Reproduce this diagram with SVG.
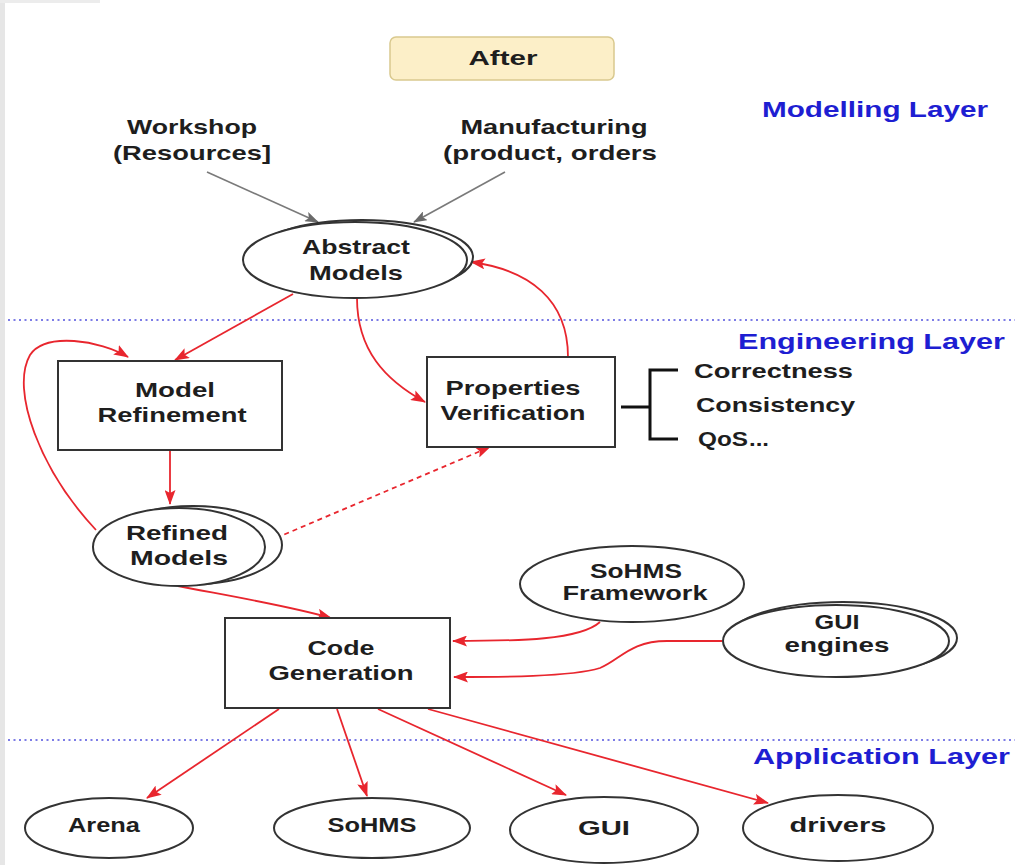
<svg xmlns="http://www.w3.org/2000/svg" width="1015" height="865" viewBox="0 0 1015 865">
  <style>
    .t { font-family: "Liberation Sans", Arial, sans-serif; font-weight: bold; font-size: 21px; fill: #1e1e1e; }
    .c { text-anchor: middle; }
    .layer { font-family: "Liberation Sans", Arial, sans-serif; font-weight: bold; font-size: 22px; fill: #1e1ed2; }
    .node { fill: #fff; stroke: #333; stroke-width: 2; }
    .red { fill: none; stroke: #e8262e; stroke-width: 1.8; marker-end: url(#ar); }
    .grey { fill: none; stroke: #7a7a7a; stroke-width: 1.6; marker-end: url(#ag); }
    .sep { stroke: #7c7ce6; stroke-width: 2; stroke-dasharray: 2 3.5; }
  </style>
  <defs>
    <marker id="ar" viewBox="0 0 15 11" refX="14" refY="5.5" markerWidth="15" markerHeight="11" markerUnits="userSpaceOnUse" orient="auto">
      <path d="M0,0 L15,5.5 L0,11 L3,5.5 Z" fill="#e8262e"/>
    </marker>
    <marker id="ag" viewBox="0 0 14 10" refX="13" refY="5" markerWidth="14" markerHeight="10" markerUnits="userSpaceOnUse" orient="auto">
      <path d="M0,0 L14,5 L0,10 L3,5 Z" fill="#6a6a6a"/>
    </marker>
  </defs>

  <!-- page background and frame strips -->
  <rect x="0" y="0" width="1015" height="865" fill="#fff"/>
  <rect x="0" y="0" width="5" height="865" fill="#e6e6e6"/>
  <rect x="0" y="0" width="100" height="3" fill="#ececec"/>

  <!-- layer separators -->
  <g id="separators">
    <line class="sep" x1="8" y1="320" x2="1015" y2="320"/>
    <line class="sep" x1="8" y1="740" x2="1015" y2="740"/>
  </g>

  <!-- layer titles -->
  <text class="layer" x="762" y="117" textLength="226" lengthAdjust="spacingAndGlyphs">Modelling Layer</text>
  <text class="layer" x="738" y="349" textLength="267" lengthAdjust="spacingAndGlyphs">Engineering  Layer</text>
  <text class="layer" x="753" y="764" textLength="257" lengthAdjust="spacingAndGlyphs">Application  Layer</text>

  <!-- title -->
  <g id="title">
    <rect x="390" y="37" width="224" height="43" rx="6" fill="#fcefc8" stroke="#d9c98e" stroke-width="1.5"/>
    <text class="t c" x="503" y="65" font-size="22" textLength="69" lengthAdjust="spacingAndGlyphs">After</text>
  </g>

  <!-- input labels -->
  <g id="workshop">
    <text class="t c" x="192" y="134" textLength="130" lengthAdjust="spacingAndGlyphs">Workshop</text>
    <text class="t c" x="192" y="160" textLength="158" lengthAdjust="spacingAndGlyphs">(Resources]</text>
  </g>
  <g id="manufacturing">
    <text class="t c" x="554" y="134" textLength="187" lengthAdjust="spacingAndGlyphs">Manufacturing</text>
    <text class="t c" x="550" y="160" textLength="214" lengthAdjust="spacingAndGlyphs">(product, orders</text>
  </g>

  <!-- connectors -->
  <g id="connectors">
    <line class="grey" x1="207" y1="172" x2="318" y2="222"/>
    <line class="grey" x1="505" y1="172" x2="414" y2="222"/>
    <line class="red" x1="293" y1="294" x2="175" y2="360"/>
    <path class="red" d="M357,298 C357,350 385,380 425,402"/>
    <path class="red" d="M568,357 C568,300 530,270 471,262"/>
    <line class="red" x1="170" y1="450" x2="170" y2="504"/>
    <path class="red" d="M96,530 C40,470 10,390 30,355 C45,332 100,340 128,357"/>
    <line class="red" x1="276" y1="538" x2="490" y2="447" stroke-dasharray="5 4"/>
    <path class="red" d="M178,586 C230,596 290,606 331,618"/>
    <path class="red" d="M600,622 C580,640 520,641 453,641"/>
    <path class="red" d="M722,641 L667,641 C630,641 620,660 600,668 C570,677 500,677 454,677"/>
    <line class="red" x1="279" y1="709" x2="147" y2="798"/>
    <line class="red" x1="337" y1="709" x2="367" y2="796"/>
    <line class="red" x1="378" y1="709" x2="566" y2="795"/>
    <line class="red" x1="428" y1="709" x2="768" y2="803"/>
  </g>

  <!-- Abstract Models -->
  <g id="abstract-models">
    <ellipse class="node" cx="362" cy="257" rx="111" ry="37"/>
    <ellipse class="node" cx="355" cy="260" rx="112" ry="38"/>
    <text class="t c" x="356" y="254" textLength="108" lengthAdjust="spacingAndGlyphs">Abstract</text>
    <text class="t c" x="356" y="280" textLength="94" lengthAdjust="spacingAndGlyphs">Models</text>
  </g>

  <!-- Model Refinement -->
  <g id="model-refinement">
    <rect class="node" x="58" y="361" width="224" height="89"/>
    <text class="t c" x="175" y="397" textLength="80" lengthAdjust="spacingAndGlyphs">Model</text>
    <text class="t c" x="172" y="422" textLength="149" lengthAdjust="spacingAndGlyphs">Refinement</text>
  </g>

  <!-- Properties Verification -->
  <g id="properties-verification">
    <rect class="node" x="427" y="357" width="188" height="90"/>
    <text class="t c" x="513" y="395" textLength="135" lengthAdjust="spacingAndGlyphs">Properties</text>
    <text class="t c" x="513" y="420" textLength="145" lengthAdjust="spacingAndGlyphs">Verification</text>
  </g>

  <!-- verified properties bracket -->
  <g id="properties-list">
    <path d="M621,407 H650 M678,370 H650 V439 H678" fill="none" stroke="#111" stroke-width="3"/>
    <text class="t" x="694" y="378" textLength="159" lengthAdjust="spacingAndGlyphs">Correctness</text>
    <text class="t" x="696" y="412" textLength="159" lengthAdjust="spacingAndGlyphs">Consistency</text>
    <text class="t" x="698" y="446" textLength="50" lengthAdjust="spacingAndGlyphs">QoS</text>
    <text class="t" x="749" y="446" font-size="12" textLength="20" lengthAdjust="spacingAndGlyphs">...</text>
  </g>

  <!-- Refined Models -->
  <g id="refined-models">
    <ellipse class="node" cx="193" cy="545" rx="89" ry="39"/>
    <ellipse class="node" cx="179" cy="547" rx="86" ry="39"/>
    <text class="t c" x="177" y="540" textLength="102" lengthAdjust="spacingAndGlyphs">Refined</text>
    <text class="t c" x="179" y="565" textLength="98" lengthAdjust="spacingAndGlyphs">Models</text>
  </g>

  <!-- SoHMS Framework -->
  <g id="sohms-framework">
    <ellipse class="node" cx="632" cy="584" rx="112" ry="38"/>
    <text class="t c" x="636" y="578" textLength="92" lengthAdjust="spacingAndGlyphs">SoHMS</text>
    <text class="t c" x="635" y="600" textLength="145" lengthAdjust="spacingAndGlyphs">Framework</text>
  </g>

  <!-- GUI engines -->
  <g id="gui-engines">
    <ellipse class="node" cx="843" cy="638" rx="114" ry="36"/>
    <ellipse class="node" cx="836" cy="641" rx="113" ry="36"/>
    <text class="t c" x="837" y="629" textLength="45" lengthAdjust="spacingAndGlyphs">GUI</text>
    <text class="t c" x="837" y="652" textLength="105" lengthAdjust="spacingAndGlyphs">engines</text>
  </g>

  <!-- Code Generation -->
  <g id="code-generation">
    <rect class="node" x="225" y="618" width="225" height="90"/>
    <text class="t c" x="341" y="655" textLength="67" lengthAdjust="spacingAndGlyphs">Code</text>
    <text class="t c" x="341" y="680" textLength="145" lengthAdjust="spacingAndGlyphs">Generation</text>
  </g>

  <!-- generated applications -->
  <g id="arena">
    <ellipse class="node" cx="109" cy="828" rx="84" ry="30"/>
    <text class="t c" x="104" y="832" textLength="72" lengthAdjust="spacingAndGlyphs">Arena</text>
  </g>
  <g id="sohms">
    <ellipse class="node" cx="372" cy="828" rx="98" ry="30"/>
    <text class="t c" x="372" y="832" textLength="89" lengthAdjust="spacingAndGlyphs">SoHMS</text>
  </g>
  <g id="gui">
    <ellipse class="node" cx="604" cy="830" rx="94" ry="33"/>
    <text class="t c" x="604" y="835" textLength="52" lengthAdjust="spacingAndGlyphs">GUI</text>
  </g>
  <g id="drivers">
    <ellipse class="node" cx="838" cy="828" rx="95" ry="33"/>
    <text class="t c" x="838" y="832" textLength="97" lengthAdjust="spacingAndGlyphs">drivers</text>
  </g>
</svg>
